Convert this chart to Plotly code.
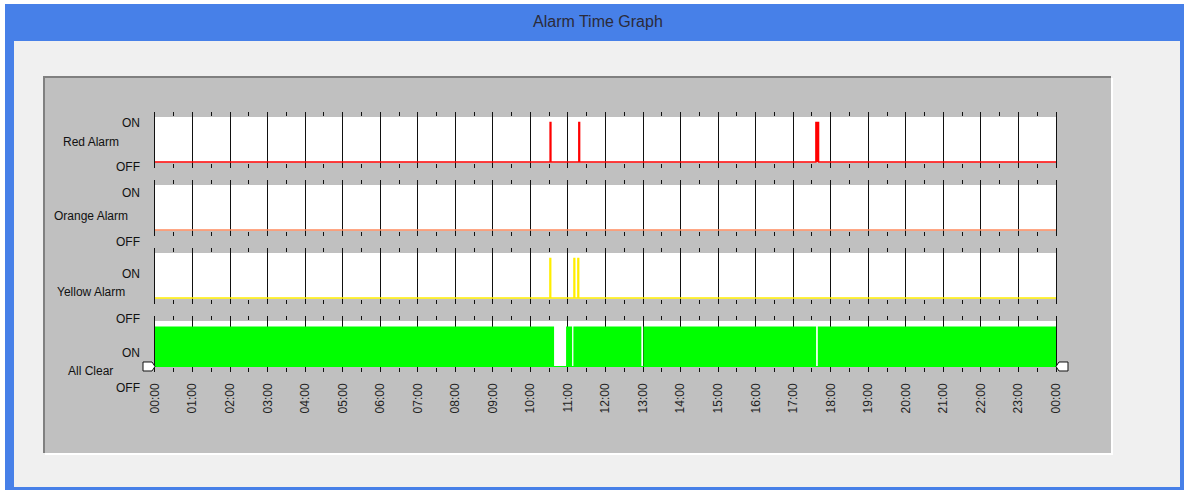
import plotly.graph_objects as go

# ---------------- data ----------------
hours = list(range(0, 25))
hour_labels = [f"{h % 24:02d}:00" for h in hours]

channel_names = ["Red Alarm", "Orange Alarm", "Yellow Alarm", "All Clear"]

# ON intervals (decimal hours) for the alarms
red_on_start = [10.525, 11.290, 17.605]
red_on_end = [10.545, 11.310, 17.675]

orange_on_start = []
orange_on_end = []

yellow_on_start = [10.520, 11.160, 11.265]
yellow_on_end = [10.540, 11.180, 11.285]

# OFF intervals (decimal hours) for "All Clear" (ON otherwise)
clear_off_start = [10.63, 11.11, 12.955, 17.61]
clear_off_end = [10.95, 11.145, 13.01, 17.655]

# ---------------- helpers ----------------
W, H = 1189, 495


def fx(px):
    return px / W


def fy(py):
    return 1 - py / H


def step_series(starts, ends, default_on):
    base = 1 if default_on else 0
    other = 1 - base
    xs, ys = [0.0], [base]
    for s, e in zip(starts, ends):
        xs += [s, e]
        ys += [other, base]
    xs.append(24.0)
    ys.append(base)
    return xs, ys


# strip geometry (pixel tops), each strip 56 px tall
strip_tops = [112, 180, 248, 316]
strip_h = 56
unit_px = 39.5          # pixels per ON unit
base_off = 50           # baseline offset from strip top
y_hi = base_off / unit_px
y_lo = -(strip_h - base_off) / unit_px

x_left, x_right = 155, 1056

line_cols = ["#ff0000", "#ff8a5c", "#ffee00", "#00ff00"]

series = [
    step_series(red_on_start, red_on_end, False),
    step_series(orange_on_start, orange_on_end, False),
    step_series(yellow_on_start, yellow_on_end, False),
    step_series(clear_off_start, clear_off_end, True),
]

fig = go.Figure()
FONT = "Liberation Sans, Arial, sans-serif"

shapes = [
    # window frame
    dict(type="rect", xref="paper", yref="paper", x0=fx(5), x1=fx(1184), y0=fy(490), y1=fy(4),
         fillcolor="#4780e8", line=dict(width=0), layer="below"),
    dict(type="rect", xref="paper", yref="paper", x0=fx(14), x1=fx(1180), y0=fy(487), y1=fy(41),
         fillcolor="#f0f0f0", line=dict(width=0), layer="below"),
    # sunken grey panel
    dict(type="rect", xref="paper", yref="paper", x0=fx(43), x1=fx(1111), y0=fy(453), y1=fy(76),
         fillcolor="#808080", line=dict(width=0), layer="below"),
    dict(type="rect", xref="paper", yref="paper", x0=fx(45), x1=fx(1113), y0=fy(455), y1=fy(78),
         fillcolor="#ffffff", line=dict(width=0), layer="below"),
    dict(type="rect", xref="paper", yref="paper", x0=fx(45), x1=fx(1111), y0=fy(453), y1=fy(78),
         fillcolor="#c0c0c0", line=dict(width=0), layer="below"),
]

annotations = [
    dict(text="Alarm Time Graph", xref="paper", yref="paper", x=fx(598), y=fy(22),
         showarrow=False, font=dict(family=FONT, size=16, color="#2b2b3a"),
         xanchor="center", yanchor="middle"),
]

# label positions (pixel y centres): ON, name, OFF
label_pos = [
    (122.7, 142.3, 166.7),
    (193.3, 215.7, 241.7),
    (274.3, 292.3, 319.0),
    (352.7, 371.0, 388.0),
]

for i in range(4):
    n = i + 1
    top = strip_tops[i]
    bot = top + strip_h
    xs, ys = series[i]
    is_clear = i == 3
    fig.add_trace(go.Scatter(
        x=xs, y=ys, mode="lines", line_shape="hv",
        line=dict(color=line_cols[i], width=0 if is_clear else 1.5),
        fill="tozeroy", fillcolor=line_cols[i],
        xaxis=f"x{n}", yaxis=f"y{n}", hoverinfo="skip",
    ))
    xa = dict(
        domain=[fx(x_left), fx(x_right)], range=[0, 24], anchor=f"y{n}",
        tickvals=hours, ticktext=hour_labels,
        showticklabels=(n == 4), tickangle=-90,
        tickfont=dict(family=FONT, size=12, color="#222222"),
        ticks="inside", ticklen=5, tickcolor="#111111", tickwidth=1,
        mirror="ticks", showline=False, zeroline=False,
        showgrid=True, gridcolor="#111111", gridwidth=1,
        minor=dict(dtick=0.5, tick0=0, ticks="inside", ticklen=4,
                   tickcolor="#111111", tickwidth=1, showgrid=False),
        fixedrange=True, ticklabelstandoff=8, automargin=False,
    )
    ya = dict(
        domain=[fy(bot), fy(top)], range=[y_lo, y_hi], anchor=f"x{n}",
        showticklabels=False, ticks="", showgrid=False,
        zeroline=is_clear, zerolinecolor=line_cols[i], zerolinewidth=1,
        showline=True, linecolor="#111111", linewidth=1, mirror=True,
        fixedrange=True, automargin=False,
    )
    if n > 1:
        xa["matches"] = "x"
    fig.update_layout({f"xaxis{'' if n == 1 else n}": xa, f"yaxis{'' if n == 1 else n}": ya})

    # white strip background
    shapes.append(dict(type="rect", xref=f"x{'' if n == 1 else n}", yref=f"y{'' if n == 1 else n}",
                       x0=0, x1=24, y0=-0.013, y1=(base_off - 5) / unit_px,
                       fillcolor="#ffffff", line=dict(width=0), layer="below"))

    on_y, name_y, off_y = label_pos[i]
    annotations += [
        dict(text="ON", xref="paper", yref="paper", x=fx(142), y=fy(on_y), showarrow=False,
             xanchor="right", yanchor="middle", font=dict(family=FONT, size=12, color="#111111")),
        dict(text=channel_names[i], xref="paper", yref="paper", x=fx(90.5), y=fy(name_y),
             showarrow=False, xanchor="center", yanchor="middle",
             font=dict(family=FONT, size=12, color="#111111")),
        dict(text="OFF", xref="paper", yref="paper", x=fx(142), y=fy(off_y), showarrow=False,
             xanchor="right", yanchor="middle", font=dict(family=FONT, size=12, color="#111111")),
    ]


def path_px(points):
    return "M " + " L ".join(f"{fx(x):.5f},{fy(y):.5f}" for x, y in points) + " Z"


# scroll handles at both ends of the time axis
shapes += [
    dict(type="path", xref="paper", yref="paper",
         path=path_px([(143, 362), (152, 362), (155, 366.5), (152, 371), (143, 371)]),
         fillcolor="#ffffff", line=dict(color="#111111", width=1), layer="above"),
    dict(type="path", xref="paper", yref="paper",
         path=path_px([(1068, 362), (1059, 362), (1056, 366.5), (1059, 371), (1068, 371)]),
         fillcolor="#ffffff", line=dict(color="#111111", width=1), layer="above"),
]

fig.update_layout(
    width=W, height=H, autosize=False,
    margin=dict(l=0, r=0, t=0, b=0, pad=0, autoexpand=False),
    paper_bgcolor="#ffffff", plot_bgcolor="rgba(0,0,0,0)",
    showlegend=False, shapes=shapes, annotations=annotations,
    font=dict(family=FONT),
)

fig.write_html(
    "out.html",
    config={"displayModeBar": False},
    post_script="document.body.style.margin='0';document.body.style.overflow='hidden';",
)
